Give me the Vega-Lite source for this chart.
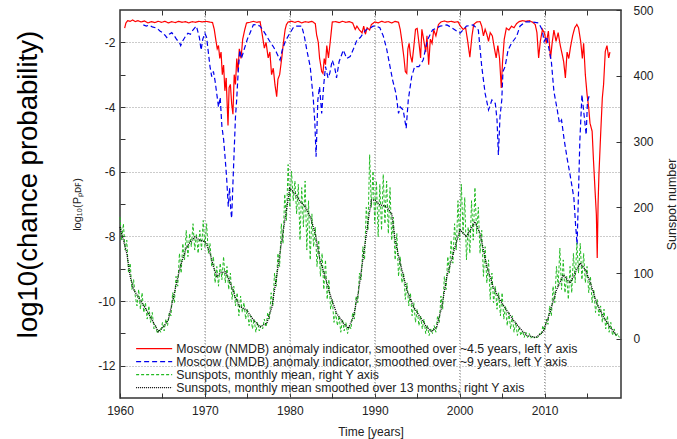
{
"$schema":"https://vega.github.io/schema/vega-lite/v6.json",
"width":501,"height":388,
"autosize":{"type":"none"},
"padding":{"left":120,"top":10,"right":56,"bottom":41},
"background":"white",
"config":{"view":{"stroke":"#333","strokeWidth":1.5},"font":"Liberation Sans",
"axis":{"labelFont":"Liberation Sans","labelFontSize":12,"labelColor":"#222","titleFont":"Liberation Sans","titleFontWeight":"normal","titleColor":"#222","tickColor":"#333","domain":false,"labelFlush":false}},
"datasets":{
"vgrid":[{"g":1970},{"g":1980},{"g":1990},{"g":2000},{"g":2010}],
"red":[{"t":1960.55,"v":-1.56},{"t":1960.7,"v":-1.4},{"t":1960.9,"v":-1.33},{"t":1961.2,"v":-1.35},{"t":1961.5,"v":-1.31},{"t":1961.8,"v":-1.36},{"t":1962.1,"v":-1.33},{"t":1962.5,"v":-1.37},{"t":1962.9,"v":-1.34},{"t":1963.3,"v":-1.4},{"t":1963.7,"v":-1.36},{"t":1964.1,"v":-1.39},{"t":1964.5,"v":-1.35},{"t":1964.9,"v":-1.38},{"t":1965.3,"v":-1.35},{"t":1965.7,"v":-1.4},{"t":1966.1,"v":-1.36},{"t":1966.5,"v":-1.39},{"t":1966.9,"v":-1.35},{"t":1967.3,"v":-1.38},{"t":1967.7,"v":-1.36},{"t":1968.1,"v":-1.4},{"t":1968.5,"v":-1.36},{"t":1968.9,"v":-1.38},{"t":1969.3,"v":-1.35},{"t":1969.7,"v":-1.37},{"t":1970.1,"v":-1.35},{"t":1970.5,"v":-1.37},{"t":1970.9,"v":-1.39},{"t":1971.1,"v":-1.6},{"t":1971.3,"v":-1.95},{"t":1971.45,"v":-2.2},{"t":1971.6,"v":-2.1},{"t":1971.75,"v":-2.5},{"t":1971.9,"v":-2.3},{"t":1972.05,"v":-3.0},{"t":1972.2,"v":-2.7},{"t":1972.35,"v":-3.5},{"t":1972.5,"v":-3.1},{"t":1972.62,"v":-3.9},{"t":1972.72,"v":-4.57},{"t":1972.85,"v":-3.4},{"t":1973.0,"v":-3.3},{"t":1973.15,"v":-3.9},{"t":1973.3,"v":-4.22},{"t":1973.45,"v":-3.0},{"t":1973.6,"v":-3.3},{"t":1973.75,"v":-2.5},{"t":1973.9,"v":-2.9},{"t":1974.05,"v":-2.2},{"t":1974.25,"v":-2.5},{"t":1974.45,"v":-1.9},{"t":1974.7,"v":-1.6},{"t":1974.9,"v":-1.4},{"t":1975.3,"v":-1.38},{"t":1975.7,"v":-1.35},{"t":1976.1,"v":-1.38},{"t":1976.5,"v":-1.36},{"t":1976.75,"v":-1.76},{"t":1977.0,"v":-2.18},{"t":1977.2,"v":-2.0},{"t":1977.45,"v":-2.48},{"t":1977.65,"v":-2.3},{"t":1977.85,"v":-3.0},{"t":1978.05,"v":-2.8},{"t":1978.25,"v":-3.31},{"t":1978.45,"v":-3.68},{"t":1978.6,"v":-3.14},{"t":1978.8,"v":-3.0},{"t":1979.05,"v":-2.48},{"t":1979.25,"v":-2.0},{"t":1979.45,"v":-1.6},{"t":1979.6,"v":-1.45},{"t":1979.8,"v":-1.37},{"t":1980.2,"v":-1.35},{"t":1980.6,"v":-1.38},{"t":1981.0,"v":-1.35},{"t":1981.4,"v":-1.4},{"t":1981.8,"v":-1.36},{"t":1982.2,"v":-1.38},{"t":1982.6,"v":-1.35},{"t":1983.0,"v":-1.42},{"t":1983.15,"v":-1.76},{"t":1983.35,"v":-2.0},{"t":1983.5,"v":-2.48},{"t":1983.75,"v":-2.9},{"t":1983.9,"v":-2.96},{"t":1984.05,"v":-2.5},{"t":1984.2,"v":-2.69},{"t":1984.35,"v":-2.1},{"t":1984.55,"v":-2.48},{"t":1984.75,"v":-2.0},{"t":1985.0,"v":-1.37},{"t":1985.4,"v":-1.36},{"t":1985.8,"v":-1.39},{"t":1986.2,"v":-1.35},{"t":1986.6,"v":-1.38},{"t":1987.0,"v":-1.36},{"t":1987.4,"v":-1.4},{"t":1987.7,"v":-1.6},{"t":1987.9,"v":-1.5},{"t":1988.2,"v":-1.62},{"t":1988.5,"v":-1.71},{"t":1988.7,"v":-1.5},{"t":1988.9,"v":-1.75},{"t":1989.1,"v":-1.55},{"t":1989.4,"v":-1.62},{"t":1989.6,"v":-1.45},{"t":1990.0,"v":-1.37},{"t":1990.4,"v":-1.4},{"t":1990.8,"v":-1.35},{"t":1991.2,"v":-1.38},{"t":1991.6,"v":-1.36},{"t":1992.0,"v":-1.4},{"t":1992.4,"v":-1.35},{"t":1992.8,"v":-1.38},{"t":1993.0,"v":-1.6},{"t":1993.2,"v":-1.97},{"t":1993.45,"v":-2.5},{"t":1993.6,"v":-2.9},{"t":1993.77,"v":-2.96},{"t":1993.9,"v":-2.2},{"t":1994.05,"v":-2.03},{"t":1994.2,"v":-2.4},{"t":1994.4,"v":-2.62},{"t":1994.6,"v":-2.14},{"t":1994.8,"v":-1.6},{"t":1995.0,"v":-1.57},{"t":1995.2,"v":-2.0},{"t":1995.4,"v":-2.48},{"t":1995.55,"v":-1.6},{"t":1995.7,"v":-1.82},{"t":1996.0,"v":-2.3},{"t":1996.15,"v":-1.8},{"t":1996.35,"v":-2.69},{"t":1996.55,"v":-1.9},{"t":1996.75,"v":-2.03},{"t":1996.95,"v":-1.62},{"t":1997.2,"v":-1.8},{"t":1997.5,"v":-1.45},{"t":1997.8,"v":-1.37},{"t":1998.2,"v":-1.34},{"t":1998.6,"v":-1.37},{"t":1999.0,"v":-1.35},{"t":1999.4,"v":-1.38},{"t":1999.8,"v":-1.36},{"t":2000.1,"v":-1.5},{"t":2000.4,"v":-1.6},{"t":2000.7,"v":-1.55},{"t":2000.95,"v":-1.97},{"t":2001.2,"v":-2.46},{"t":2001.45,"v":-1.8},{"t":2001.65,"v":-1.45},{"t":2002.0,"v":-1.37},{"t":2002.4,"v":-1.36},{"t":2002.6,"v":-1.5},{"t":2002.8,"v":-1.8},{"t":2003.0,"v":-1.6},{"t":2003.2,"v":-1.75},{"t":2003.4,"v":-1.97},{"t":2003.6,"v":-1.7},{"t":2003.85,"v":-1.8},{"t":2004.1,"v":-2.2},{"t":2004.3,"v":-2.48},{"t":2004.5,"v":-2.1},{"t":2004.7,"v":-2.5},{"t":2004.9,"v":-3.41},{"t":2005.05,"v":-2.6},{"t":2005.25,"v":-1.9},{"t":2005.5,"v":-1.56},{"t":2005.8,"v":-1.62},{"t":2006.1,"v":-1.5},{"t":2006.4,"v":-1.55},{"t":2006.7,"v":-1.42},{"t":2007.0,"v":-1.36},{"t":2007.4,"v":-1.33},{"t":2007.8,"v":-1.35},{"t":2008.2,"v":-1.33},{"t":2008.6,"v":-1.38},{"t":2008.9,"v":-1.45},{"t":2009.1,"v":-1.7},{"t":2009.3,"v":-2.48},{"t":2009.5,"v":-1.97},{"t":2009.75,"v":-1.6},{"t":2010.0,"v":-1.72},{"t":2010.2,"v":-2.03},{"t":2010.45,"v":-1.65},{"t":2010.7,"v":-2.5},{"t":2010.9,"v":-2.0},{"t":2011.1,"v":-1.62},{"t":2011.35,"v":-1.97},{"t":2011.6,"v":-1.7},{"t":2011.85,"v":-2.1},{"t":2012.05,"v":-2.34},{"t":2012.25,"v":-2.6},{"t":2012.45,"v":-3.1},{"t":2012.65,"v":-2.3},{"t":2012.85,"v":-2.5},{"t":2013.05,"v":-2.15},{"t":2013.3,"v":-1.8},{"t":2013.55,"v":-1.55},{"t":2013.8,"v":-1.45},{"t":2014.0,"v":-1.55},{"t":2014.25,"v":-1.97},{"t":2014.45,"v":-2.5},{"t":2014.6,"v":-2.03},{"t":2014.8,"v":-3.0},{"t":2015.0,"v":-3.6},{"t":2015.2,"v":-4.03},{"t":2015.35,"v":-4.5},{"t":2015.6,"v":-4.75},{"t":2015.75,"v":-5.6},{"t":2015.95,"v":-6.61},{"t":2016.1,"v":-7.33},{"t":2016.2,"v":-8.67},{"t":2016.3,"v":-7.0},{"t":2016.4,"v":-6.09},{"t":2016.6,"v":-4.86},{"t":2016.8,"v":-3.72},{"t":2016.95,"v":-3.3},{"t":2017.15,"v":-2.28},{"t":2017.35,"v":-2.1},{"t":2017.55,"v":-2.48},{"t":2017.7,"v":-2.3}],
"blue":[{"t":1962.75,"v":-1.46},{"t":1963.1,"v":-1.5},{"t":1963.4,"v":-1.47},{"t":1963.8,"v":-1.52},{"t":1964.2,"v":-1.55},{"t":1964.5,"v":-1.6},{"t":1964.7,"v":-1.65},{"t":1965.0,"v":-1.7},{"t":1965.3,"v":-1.78},{"t":1965.5,"v":-1.85},{"t":1965.8,"v":-1.75},{"t":1966.1,"v":-1.7},{"t":1966.4,"v":-1.8},{"t":1966.7,"v":-1.92},{"t":1967.0,"v":-2.0},{"t":1967.15,"v":-2.1},{"t":1967.4,"v":-1.95},{"t":1967.7,"v":-1.82},{"t":1968.0,"v":-1.72},{"t":1968.3,"v":-1.75},{"t":1968.5,"v":-1.65},{"t":1968.8,"v":-1.55},{"t":1969.0,"v":-1.5},{"t":1969.2,"v":-1.7},{"t":1969.35,"v":-1.85},{"t":1969.55,"v":-2.24},{"t":1969.75,"v":-1.9},{"t":1970.0,"v":-1.72},{"t":1970.2,"v":-1.85},{"t":1970.4,"v":-2.3},{"t":1970.6,"v":-2.75},{"t":1970.8,"v":-3.06},{"t":1971.0,"v":-2.9},{"t":1971.2,"v":-3.2},{"t":1971.4,"v":-3.6},{"t":1971.6,"v":-4.0},{"t":1971.8,"v":-3.7},{"t":1972.0,"v":-4.6},{"t":1972.2,"v":-5.0},{"t":1972.37,"v":-5.54},{"t":1972.55,"v":-6.16},{"t":1972.75,"v":-7.08},{"t":1972.9,"v":-6.5},{"t":1973.05,"v":-7.2},{"t":1973.15,"v":-7.44},{"t":1973.3,"v":-6.36},{"t":1973.45,"v":-5.33},{"t":1973.6,"v":-4.3},{"t":1973.74,"v":-3.78},{"t":1973.9,"v":-3.0},{"t":1974.1,"v":-2.24},{"t":1974.3,"v":-2.5},{"t":1974.6,"v":-2.24},{"t":1975.0,"v":-1.9},{"t":1975.3,"v":-1.72},{"t":1975.7,"v":-1.46},{"t":1976.1,"v":-1.45},{"t":1976.5,"v":-1.5},{"t":1976.9,"v":-1.65},{"t":1977.3,"v":-1.82},{"t":1977.7,"v":-2.0},{"t":1978.05,"v":-2.13},{"t":1978.4,"v":-2.3},{"t":1978.85,"v":-2.55},{"t":1979.1,"v":-2.24},{"t":1979.5,"v":-1.95},{"t":1980.0,"v":-1.72},{"t":1980.4,"v":-1.55},{"t":1980.8,"v":-1.5},{"t":1981.4,"v":-1.5},{"t":1981.7,"v":-1.8},{"t":1982.0,"v":-2.24},{"t":1982.4,"v":-2.75},{"t":1982.77,"v":-3.78},{"t":1982.95,"v":-4.5},{"t":1983.09,"v":-5.54},{"t":1983.3,"v":-3.78},{"t":1983.5,"v":-3.37},{"t":1983.75,"v":-4.2},{"t":1984.0,"v":-3.3},{"t":1984.2,"v":-2.75},{"t":1984.5,"v":-3.1},{"t":1984.7,"v":-2.96},{"t":1985.0,"v":-2.55},{"t":1985.3,"v":-2.8},{"t":1985.5,"v":-3.1},{"t":1985.8,"v":-2.6},{"t":1986.3,"v":-2.24},{"t":1986.7,"v":-2.5},{"t":1987.1,"v":-2.44},{"t":1987.5,"v":-2.2},{"t":1987.9,"v":-1.93},{"t":1988.3,"v":-1.85},{"t":1988.65,"v":-1.72},{"t":1989.0,"v":-1.6},{"t":1989.4,"v":-1.57},{"t":1989.8,"v":-1.5},{"t":1990.2,"v":-1.5},{"t":1990.6,"v":-1.55},{"t":1991.0,"v":-1.8},{"t":1991.4,"v":-2.2},{"t":1991.8,"v":-2.75},{"t":1992.1,"v":-3.16},{"t":1992.5,"v":-3.58},{"t":1992.8,"v":-4.2},{"t":1993.0,"v":-4.0},{"t":1993.35,"v":-4.09},{"t":1993.7,"v":-4.66},{"t":1993.95,"v":-3.78},{"t":1994.35,"v":-3.06},{"t":1994.7,"v":-2.75},{"t":1995.2,"v":-2.75},{"t":1995.7,"v":-2.55},{"t":1996.2,"v":-1.93},{"t":1996.8,"v":-1.62},{"t":1997.7,"v":-1.5},{"t":1998.5,"v":-1.46},{"t":1999.2,"v":-1.57},{"t":2000.05,"v":-1.72},{"t":2000.8,"v":-1.5},{"t":2001.6,"v":-1.46},{"t":2002.2,"v":-1.62},{"t":2002.6,"v":-2.75},{"t":2003.0,"v":-3.58},{"t":2003.4,"v":-4.09},{"t":2003.8,"v":-3.78},{"t":2004.2,"v":-3.89},{"t":2004.4,"v":-4.4},{"t":2004.56,"v":-5.48},{"t":2004.75,"v":-4.3},{"t":2004.96,"v":-3.78},{"t":2005.1,"v":-2.9},{"t":2005.35,"v":-2.75},{"t":2005.7,"v":-2.24},{"t":2006.1,"v":-2.03},{"t":2006.7,"v":-1.82},{"t":2007.1,"v":-1.5},{"t":2007.7,"v":-1.37},{"t":2008.5,"v":-1.37},{"t":2009.3,"v":-1.4},{"t":2009.7,"v":-1.6},{"t":2009.95,"v":-1.97},{"t":2010.25,"v":-1.82},{"t":2010.5,"v":-2.18},{"t":2010.8,"v":-2.6},{"t":2011.1,"v":-3.52},{"t":2011.5,"v":-4.1},{"t":2011.75,"v":-4.5},{"t":2012.0,"v":-4.4},{"t":2012.3,"v":-5.0},{"t":2012.65,"v":-5.58},{"t":2013.0,"v":-6.09},{"t":2013.45,"v":-6.81},{"t":2013.65,"v":-7.64},{"t":2013.83,"v":-8.26},{"t":2014.0,"v":-6.61},{"t":2014.15,"v":-5.07},{"t":2014.4,"v":-3.62},{"t":2014.65,"v":-4.24},{"t":2014.9,"v":-4.86},{"t":2015.05,"v":-3.83},{"t":2015.3,"v":-3.62}],
"sm":[{"t":1960.0,"n":170},{"t":1960.8,"n":130},{"t":1961.2,"n":95},{"t":1961.6,"n":75},{"t":1962.35,"n":59},{"t":1963.1,"n":44},{"t":1963.9,"n":26},{"t":1964.5,"n":11},{"t":1965.1,"n":18},{"t":1965.7,"n":29},{"t":1966.3,"n":64},{"t":1967.1,"n":110},{"t":1967.85,"n":140},{"t":1968.8,"n":155},{"t":1969.4,"n":150},{"t":1970.0,"n":148},{"t":1970.5,"n":135},{"t":1971.0,"n":110},{"t":1971.4,"n":95},{"t":1971.8,"n":100},{"t":1972.4,"n":102},{"t":1973.0,"n":85},{"t":1973.55,"n":64},{"t":1974.1,"n":49},{"t":1974.9,"n":44},{"t":1975.7,"n":29},{"t":1976.5,"n":18},{"t":1977.3,"n":24},{"t":1977.9,"n":49},{"t":1978.45,"n":95},{"t":1979.0,"n":145},{"t":1979.6,"n":196},{"t":1980.0,"n":229},{"t":1980.6,"n":221},{"t":1981.2,"n":209},{"t":1981.8,"n":201},{"t":1982.4,"n":186},{"t":1983.0,"n":160},{"t":1983.55,"n":120},{"t":1984.15,"n":95},{"t":1984.7,"n":69},{"t":1985.5,"n":39},{"t":1986.3,"n":24},{"t":1986.9,"n":16},{"t":1987.5,"n":34},{"t":1988.05,"n":69},{"t":1988.65,"n":125},{"t":1989.25,"n":181},{"t":1989.6,"n":211},{"t":1990.0,"n":211},{"t":1990.6,"n":204},{"t":1991.4,"n":201},{"t":1992.0,"n":190},{"t":1992.4,"n":150},{"t":1993.0,"n":115},{"t":1993.8,"n":74},{"t":1994.55,"n":49},{"t":1995.3,"n":34},{"t":1996.1,"n":18},{"t":1996.7,"n":11},{"t":1997.3,"n":18},{"t":1997.9,"n":49},{"t":1998.5,"n":95},{"t":1999.25,"n":130},{"t":2000.05,"n":166},{"t":2000.8,"n":155},{"t":2001.8,"n":178},{"t":2002.4,"n":160},{"t":2003.2,"n":110},{"t":2003.95,"n":79},{"t":2004.75,"n":59},{"t":2005.5,"n":44},{"t":2006.3,"n":29},{"t":2007.1,"n":16},{"t":2007.9,"n":5},{"t":2009.0,"n":2},{"t":2009.85,"n":11},{"t":2010.6,"n":39},{"t":2011.4,"n":74},{"t":2012.2,"n":97},{"t":2013.0,"n":85},{"t":2013.6,"n":100},{"t":2014.2,"n":115},{"t":2014.8,"n":105},{"t":2015.4,"n":85},{"t":2016.15,"n":54},{"t":2016.9,"n":34},{"t":2017.7,"n":18},{"t":2018.5,"n":5}],
"ss":[{"t":1960.0,"n":185},{"t":1960.2,"n":150},{"t":1960.4,"n":175},{"t":1960.6,"n":135},{"t":1960.8,"n":150},{"t":1961.0,"n":100},{"t":1961.2,"n":115},{"t":1961.4,"n":75},{"t":1961.6,"n":90},{"t":1961.8,"n":65},{"t":1962.0,"n":50},{"t":1962.2,"n":75},{"t":1962.4,"n":45},{"t":1962.6,"n":70},{"t":1962.8,"n":40},{"t":1963.0,"n":55},{"t":1963.2,"n":30},{"t":1963.4,"n":50},{"t":1963.6,"n":25},{"t":1963.8,"n":40},{"t":1964.0,"n":15},{"t":1964.2,"n":20},{"t":1964.4,"n":8},{"t":1964.6,"n":15},{"t":1964.8,"n":10},{"t":1965.0,"n":25},{"t":1965.2,"n":12},{"t":1965.4,"n":30},{"t":1965.6,"n":20},{"t":1965.8,"n":40},{"t":1966.0,"n":35},{"t":1966.2,"n":70},{"t":1966.4,"n":55},{"t":1966.6,"n":95},{"t":1966.8,"n":80},{"t":1967.0,"n":130},{"t":1967.2,"n":100},{"t":1967.4,"n":145},{"t":1967.6,"n":120},{"t":1967.8,"n":165},{"t":1968.0,"n":125},{"t":1968.2,"n":160},{"t":1968.4,"n":140},{"t":1968.6,"n":175},{"t":1968.8,"n":135},{"t":1969.0,"n":160},{"t":1969.2,"n":130},{"t":1969.4,"n":165},{"t":1969.6,"n":135},{"t":1969.8,"n":180},{"t":1970.0,"n":140},{"t":1970.2,"n":175},{"t":1970.4,"n":130},{"t":1970.6,"n":145},{"t":1970.8,"n":110},{"t":1971.0,"n":125},{"t":1971.2,"n":85},{"t":1971.4,"n":110},{"t":1971.6,"n":80},{"t":1971.8,"n":115},{"t":1972.0,"n":90},{"t":1972.2,"n":125},{"t":1972.4,"n":85},{"t":1972.6,"n":110},{"t":1972.8,"n":75},{"t":1973.0,"n":100},{"t":1973.2,"n":60},{"t":1973.4,"n":80},{"t":1973.6,"n":50},{"t":1973.8,"n":70},{"t":1974.0,"n":35},{"t":1974.2,"n":65},{"t":1974.4,"n":40},{"t":1974.6,"n":55},{"t":1974.8,"n":30},{"t":1975.0,"n":45},{"t":1975.2,"n":20},{"t":1975.4,"n":35},{"t":1975.6,"n":15},{"t":1975.8,"n":30},{"t":1976.0,"n":10},{"t":1976.2,"n":25},{"t":1976.4,"n":12},{"t":1976.6,"n":20},{"t":1976.8,"n":15},{"t":1977.0,"n":30},{"t":1977.2,"n":18},{"t":1977.4,"n":40},{"t":1977.6,"n":30},{"t":1977.8,"n":70},{"t":1978.0,"n":50},{"t":1978.2,"n":100},{"t":1978.4,"n":80},{"t":1978.6,"n":130},{"t":1978.8,"n":110},{"t":1979.0,"n":175},{"t":1979.2,"n":145},{"t":1979.4,"n":220},{"t":1979.6,"n":180},{"t":1979.8,"n":265},{"t":1980.0,"n":200},{"t":1980.2,"n":255},{"t":1980.4,"n":210},{"t":1980.6,"n":240},{"t":1980.8,"n":190},{"t":1981.0,"n":235},{"t":1981.2,"n":150},{"t":1981.4,"n":230},{"t":1981.6,"n":170},{"t":1981.8,"n":240},{"t":1982.0,"n":135},{"t":1982.2,"n":210},{"t":1982.4,"n":120},{"t":1982.6,"n":190},{"t":1982.8,"n":140},{"t":1983.0,"n":170},{"t":1983.2,"n":110},{"t":1983.4,"n":150},{"t":1983.6,"n":95},{"t":1983.8,"n":130},{"t":1984.0,"n":75},{"t":1984.2,"n":120},{"t":1984.4,"n":60},{"t":1984.6,"n":90},{"t":1984.8,"n":45},{"t":1985.0,"n":60},{"t":1985.2,"n":25},{"t":1985.4,"n":40},{"t":1985.6,"n":20},{"t":1985.8,"n":35},{"t":1986.0,"n":10},{"t":1986.2,"n":30},{"t":1986.4,"n":12},{"t":1986.6,"n":25},{"t":1986.8,"n":8},{"t":1987.0,"n":20},{"t":1987.2,"n":15},{"t":1987.4,"n":40},{"t":1987.6,"n":30},{"t":1987.8,"n":65},{"t":1988.0,"n":55},{"t":1988.2,"n":100},{"t":1988.4,"n":90},{"t":1988.6,"n":140},{"t":1988.8,"n":120},{"t":1989.0,"n":200},{"t":1989.2,"n":165},{"t":1989.4,"n":280},{"t":1989.6,"n":200},{"t":1989.8,"n":255},{"t":1990.0,"n":175},{"t":1990.2,"n":240},{"t":1990.4,"n":155},{"t":1990.6,"n":235},{"t":1990.8,"n":165},{"t":1991.0,"n":250},{"t":1991.2,"n":175},{"t":1991.4,"n":240},{"t":1991.6,"n":160},{"t":1991.8,"n":230},{"t":1992.0,"n":150},{"t":1992.2,"n":185},{"t":1992.4,"n":120},{"t":1992.6,"n":160},{"t":1992.8,"n":95},{"t":1993.0,"n":125},{"t":1993.2,"n":85},{"t":1993.4,"n":100},{"t":1993.6,"n":60},{"t":1993.8,"n":85},{"t":1994.0,"n":50},{"t":1994.2,"n":70},{"t":1994.4,"n":35},{"t":1994.6,"n":55},{"t":1994.8,"n":25},{"t":1995.0,"n":45},{"t":1995.2,"n":20},{"t":1995.4,"n":35},{"t":1995.6,"n":15},{"t":1995.8,"n":30},{"t":1996.0,"n":8},{"t":1996.2,"n":20},{"t":1996.4,"n":5},{"t":1996.6,"n":15},{"t":1996.8,"n":8},{"t":1997.0,"n":20},{"t":1997.2,"n":10},{"t":1997.4,"n":35},{"t":1997.6,"n":25},{"t":1997.8,"n":65},{"t":1998.0,"n":45},{"t":1998.2,"n":95},{"t":1998.4,"n":75},{"t":1998.6,"n":125},{"t":1998.8,"n":100},{"t":1999.0,"n":150},{"t":1999.2,"n":115},{"t":1999.4,"n":175},{"t":1999.6,"n":135},{"t":1999.8,"n":210},{"t":2000.0,"n":150},{"t":2000.2,"n":235},{"t":2000.4,"n":160},{"t":2000.6,"n":215},{"t":2000.8,"n":120},{"t":2001.0,"n":170},{"t":2001.2,"n":130},{"t":2001.4,"n":210},{"t":2001.6,"n":150},{"t":2001.8,"n":230},{"t":2002.0,"n":160},{"t":2002.2,"n":200},{"t":2002.4,"n":130},{"t":2002.6,"n":165},{"t":2002.8,"n":95},{"t":2003.0,"n":140},{"t":2003.2,"n":85},{"t":2003.4,"n":120},{"t":2003.6,"n":60},{"t":2003.8,"n":100},{"t":2004.0,"n":55},{"t":2004.2,"n":80},{"t":2004.4,"n":45},{"t":2004.6,"n":70},{"t":2004.8,"n":35},{"t":2005.0,"n":70},{"t":2005.2,"n":30},{"t":2005.4,"n":50},{"t":2005.6,"n":20},{"t":2005.8,"n":40},{"t":2006.0,"n":15},{"t":2006.2,"n":35},{"t":2006.4,"n":10},{"t":2006.6,"n":25},{"t":2006.8,"n":5},{"t":2007.0,"n":18},{"t":2007.2,"n":5},{"t":2007.4,"n":12},{"t":2007.6,"n":2},{"t":2007.8,"n":10},{"t":2008.0,"n":2},{"t":2008.2,"n":8},{"t":2008.4,"n":1},{"t":2008.6,"n":5},{"t":2008.8,"n":1},{"t":2009.0,"n":4},{"t":2009.2,"n":2},{"t":2009.4,"n":8},{"t":2009.6,"n":5},{"t":2009.8,"n":20},{"t":2010.0,"n":12},{"t":2010.2,"n":30},{"t":2010.4,"n":22},{"t":2010.6,"n":50},{"t":2010.8,"n":35},{"t":2011.0,"n":80},{"t":2011.2,"n":55},{"t":2011.4,"n":110},{"t":2011.6,"n":80},{"t":2011.8,"n":138},{"t":2012.0,"n":75},{"t":2012.2,"n":120},{"t":2012.4,"n":70},{"t":2012.6,"n":95},{"t":2012.8,"n":60},{"t":2013.0,"n":110},{"t":2013.2,"n":70},{"t":2013.4,"n":130},{"t":2013.6,"n":85},{"t":2013.8,"n":146},{"t":2014.0,"n":100},{"t":2014.2,"n":145},{"t":2014.4,"n":90},{"t":2014.6,"n":130},{"t":2014.8,"n":85},{"t":2015.0,"n":110},{"t":2015.2,"n":70},{"t":2015.4,"n":95},{"t":2015.6,"n":55},{"t":2015.8,"n":75},{"t":2016.0,"n":40},{"t":2016.2,"n":60},{"t":2016.4,"n":35},{"t":2016.6,"n":50},{"t":2016.8,"n":25},{"t":2017.0,"n":45},{"t":2017.2,"n":15},{"t":2017.4,"n":35},{"t":2017.6,"n":10},{"t":2017.8,"n":25},{"t":2018.0,"n":5},{"t":2018.2,"n":15},{"t":2018.4,"n":3},{"t":2018.6,"n":8},{"t":2018.8,"n":2}]
},
"layer":[
{"data":{"name":"vgrid"},
 "mark":{"type":"rule","stroke":"#999","strokeDash":[1,2],"strokeWidth":1},
 "encoding":{
  "x":{"field":"g","type":"quantitative","scale":{"domain":[1960,2019],"nice":false,"zero":false},
   "axis":{"orient":"top","values":[1965,1970,1975,1980,1985,1990,1995,2000,2005,2010,2015],"labels":false,"tickSize":-5,"grid":false,"title":null}},
  "y":{"datum":-13,"type":"quantitative","scale":{"domain":[-13,-1],"nice":false,"zero":false},
   "axis":{"orient":"left","labels":false,"ticks":false,"grid":false,"title":"log10(chance probability)","titleFontSize":27.5,"titleColor":"#000","titleX":-92,"titleY":174,"titleAngle":270,"titleAlign":"center","titleBaseline":"middle"}},
  "y2":{"datum":-1}}},
{"data":{"name":"red"},
 "mark":{"type":"line","strokeWidth":1.2},
 "encoding":{
  "x":{"field":"t","type":"quantitative","scale":{"domain":[1960,2019],"nice":false,"zero":false},
   "axis":{"orient":"bottom","values":[1960,1965,1970,1975,1980,1985,1990,1995,2000,2005,2010,2015],"labelExpr":"datum.value % 10 == 0 ? '' + datum.value : ''","labelFlush":false,"tickSize":-5,"labelPadding":12,"grid":true,"gridColor":"#999","gridDash":[1,2],"gridOpacity":{"condition":{"test":"datum.value % 10 == 0 && datum.value > 1960","value":1},"value":0},"title":"Time [years]","titleFontSize":12,"titleY":33,"titleBaseline":"middle"}},
  "y":{"field":"v","type":"quantitative","scale":{"domain":[-13,-1],"nice":false,"zero":false},
   "axis":{"orient":"left","values":[-12,-11,-10,-9,-8,-7,-6,-5,-4,-3,-2],"labelExpr":"datum.value % 2 == 0 ? '-' + abs(datum.value) : ''","labelFlush":false,"tickSize":-5,"labelPadding":10,"grid":true,"gridColor":"#999","gridDash":[1,2],"gridOpacity":{"condition":{"test":"datum.value % 2 == 0","value":1},"value":0},"title":"log₁₀(Pₚᴅꜰ)","titleFontSize":11,"titleX":-43,"titleY":194,"titleAngle":270,"titleAlign":"center","titleBaseline":"middle"}},
  "color":{"datum":"a","type":"nominal","scale":{"domain":["a","b","c","d"],"range":["#ff0000","#0000ee","#22bb22","#000000"]},
   "legend":{"title":null,"orient":"none","legendX":28,"legendY":332.5,"symbolType":"M-5.1,0H5.1","symbolSize":50,"symbolStrokeWidth":1.2,"labelFontSize":12.3,"labelFont":"Liberation Sans","labelColor":"#222","labelOffset":16,"rowPadding":0,"padding":0,"labelLimit":0,
    "labelExpr":"{'a':'Moscow (NMDB) anomaly indicator, smoothed over ~4.5 years, left Y axis','b':'Moscow (NMDB) anomaly indicator, smoothed over ~9 years, left Y axis','c':'Sunspots, monthly mean, right Y axis','d':'Sunspots, monthly mean smoothed over 13 months, right Y axis'}[datum.label]"}},
  "strokeDash":{"datum":"a","type":"nominal","scale":{"domain":["a","b","c","d"],"range":[[1,0],[5,3],[3,2],[1,1]]},
   "legend":{"title":null,"orient":"none","legendX":28,"legendY":332.5,"symbolType":"M-5.1,0H5.1","symbolSize":50,"symbolStrokeWidth":1.2,"labelFontSize":12.3,"labelFont":"Liberation Sans","labelColor":"#222","labelOffset":16,"rowPadding":0,"padding":0,"labelLimit":0,
    "labelExpr":"{'a':'Moscow (NMDB) anomaly indicator, smoothed over ~4.5 years, left Y axis','b':'Moscow (NMDB) anomaly indicator, smoothed over ~9 years, left Y axis','c':'Sunspots, monthly mean, right Y axis','d':'Sunspots, monthly mean smoothed over 13 months, right Y axis'}[datum.label]"}}}},
{"data":{"name":"blue"},
 "mark":{"type":"line","strokeWidth":1.2},
 "encoding":{
  "x":{"field":"t","type":"quantitative","scale":{"domain":[1960,2019],"nice":false,"zero":false},"axis":null},
  "y":{"field":"v","type":"quantitative","scale":{"domain":[-13,-1],"nice":false,"zero":false},"axis":null},
  "color":{"datum":"b","type":"nominal","scale":{"domain":["a","b","c","d"],"range":["#ff0000","#0000ee","#22bb22","#000000"]}},
  "strokeDash":{"datum":"b","type":"nominal","scale":{"domain":["a","b","c","d"],"range":[[1,0],[5,3],[3,2],[1,1]]}}}},
{"data":{"name":"ss"},
 "mark":{"type":"line","strokeWidth":1},
 "encoding":{
  "x":{"field":"t","type":"quantitative","scale":{"domain":[1960,2019],"nice":false,"zero":false},"axis":null},
  "y":{"field":"n","type":"quantitative","scale":{"domain":[-90,500],"nice":false,"zero":false},
   "axis":{"orient":"right","values":[0,100,200,300,400,500],"labelFlush":false,"tickSize":-5,"labelPadding":17,"grid":false,"title":"Sunspot number","titleFontSize":12.5,"titleX":50,"titleY":194,"titleAngle":270,"titleAlign":"center","titleBaseline":"middle"}},
  "color":{"datum":"c","type":"nominal","scale":{"domain":["a","b","c","d"],"range":["#ff0000","#0000ee","#22bb22","#000000"]}},
  "strokeDash":{"datum":"c","type":"nominal","scale":{"domain":["a","b","c","d"],"range":[[1,0],[5,3],[3,2],[1,1]]}}}},
{"data":{"name":"sm"},
 "mark":{"type":"line","strokeWidth":1.3},
 "encoding":{
  "x":{"field":"t","type":"quantitative","scale":{"domain":[1960,2019],"nice":false,"zero":false},"axis":null},
  "y":{"field":"n","type":"quantitative","scale":{"domain":[-90,500],"nice":false,"zero":false},"axis":null},
  "color":{"datum":"d","type":"nominal","scale":{"domain":["a","b","c","d"],"range":["#ff0000","#0000ee","#22bb22","#000000"]}},
  "strokeDash":{"datum":"d","type":"nominal","scale":{"domain":["a","b","c","d"],"range":[[1,0],[5,3],[3,2],[1,1]]}}}}
],
"resolve":{"scale":{"y":"independent"},"axis":{"x":"independent","y":"independent"}}
}
